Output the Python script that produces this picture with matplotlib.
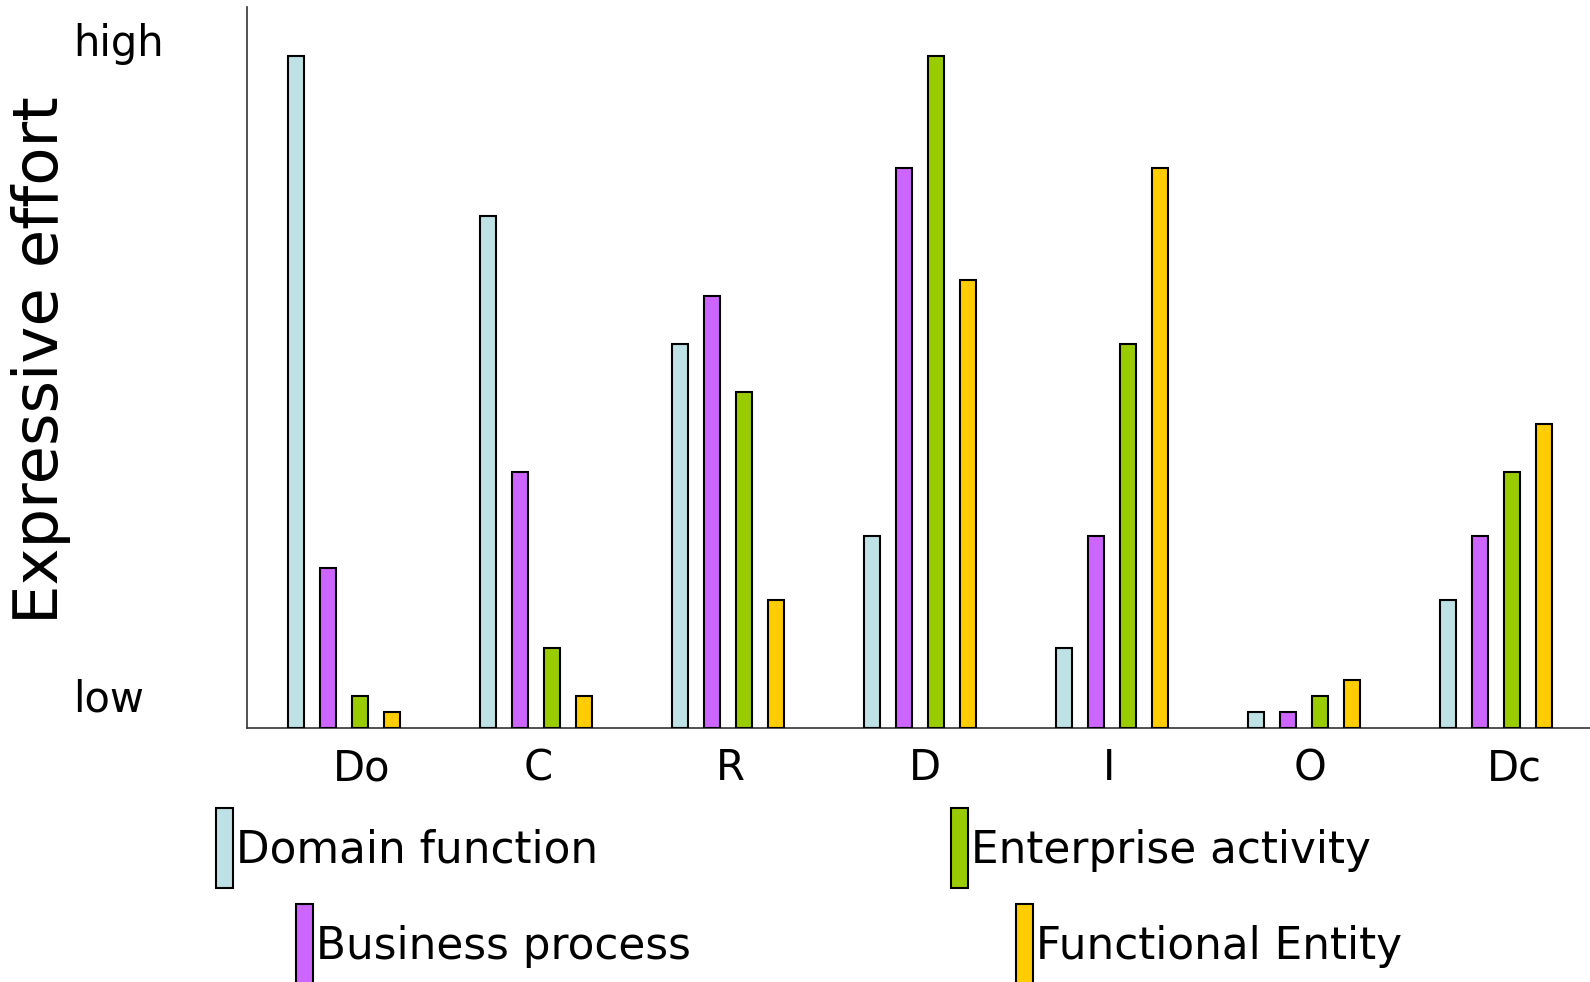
import matplotlib.pyplot as plt
import matplotlib.transforms as mtransforms
from matplotlib.patches import Rectangle

plt.rcParams['font.family'] = ['DejaVu Sans']

# Datos (unidades relativas de esfuerzo)
categories = ['Do', 'C', 'R', 'D', 'I', 'O', 'Dc']
domain_function = [42, 32, 24, 12, 5, 1, 8]
business_process = [10, 16, 27, 35, 12, 1, 12]
enterprise_activity = [2, 5, 21, 42, 24, 2, 16]
functional_entity = [1, 2, 8, 28, 35, 3, 19]

series_names = ['Domain function', 'Business process',
                'Enterprise activity', 'Functional Entity']
colors = ['#BDE1E4', '#CC66FF', '#99CC00', '#FFCC00']

W, H = 1590, 982


def px(x, y):
    # convierte pixeles (origen arriba-izquierda) a fraccion de figura
    return x / W, 1 - y / H


fig = plt.figure(figsize=(W / 100, H / 100), dpi=100)
ax = fig.add_axes([247 / W, (H - 728) / H, 1 - 247 / W, 721 / H])

all_series = [domain_function, business_process, enterprise_activity, functional_entity]
for j, (vals, col) in enumerate(zip(all_series, colors)):
    xs = [6 * i + j for i in range(len(categories))]
    ax.bar(xs, vals, width=0.5, color=col, edgecolor='black', linewidth=1.5, zorder=3)

ax.set_xlim(-49 / 32, -49 / 32 + (W - 247) / 32)
ax.set_ylim(0, 45.06)

ax.set_xticks([6 * i + 1.5 for i in range(len(categories))])
ax.set_xticklabels(categories, fontsize=30)
ax.tick_params(axis='x', length=0, pad=14)
ax.set_yticks([])

# pequeño desplazamiento de etiquetas como en el original (pixeles)
label_shift = [18, 2, 2, 5, -3, 6, 18]
for lab, dx in zip(ax.get_xticklabels(), label_shift):
    lab.set_transform(lab.get_transform() +
                      mtransforms.ScaledTranslation(dx / 100, 0, fig.dpi_scale_trans))

for s in ['top', 'right']:
    ax.spines[s].set_visible(False)
ax.spines['left'].set_color('#333333')
ax.spines['bottom'].set_color('#333333')
ax.spines['left'].set_linewidth(1.2)
ax.spines['bottom'].set_linewidth(1.2)

fig.text(*px(73, 44), 'high', fontsize=30, ha='left', va='center')
fig.text(*px(73, 700), 'low', fontsize=30, ha='left', va='center')
fig.text(*px(41, 360), 'Expressive effort', fontsize=45, rotation=90,
         ha='center', va='center')

# leyenda manual
legend_pos = [(216, 808), (296, 904), (951, 808), (1016, 904)]
for (lx, ly), name, col in zip(legend_pos, series_names, colors):
    x0, y0 = px(lx, ly + 80)
    fig.add_artist(Rectangle((x0, y0), 17 / W, 80 / H, transform=fig.transFigure,
                             facecolor=col, edgecolor='black', linewidth=1.5))
    fig.text(*px(lx + 20, ly + 42), name, fontsize=31.5, ha='left', va='center')

fig.savefig('out.png', dpi=100)
